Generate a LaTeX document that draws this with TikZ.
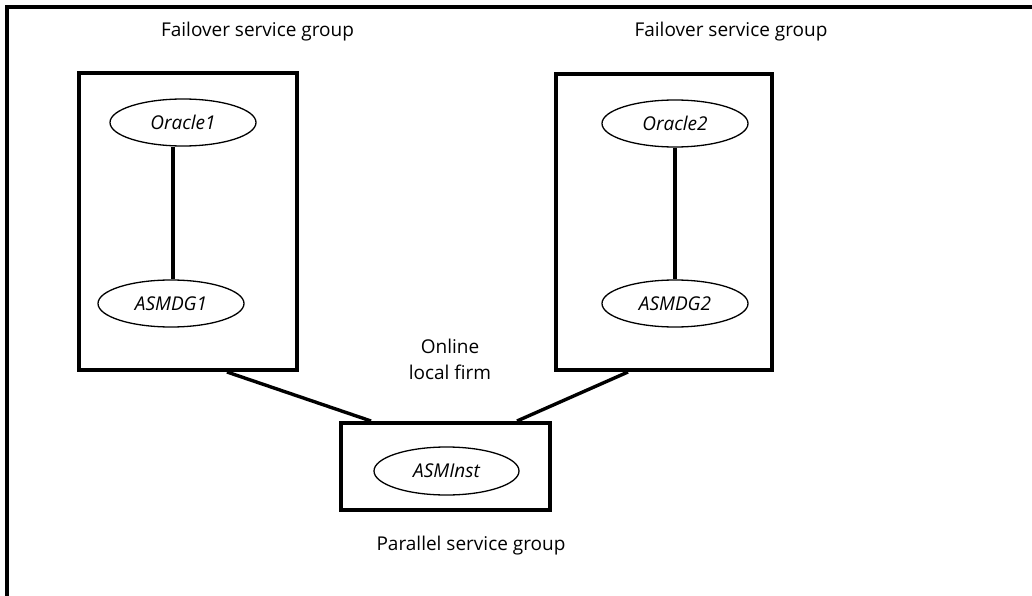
\documentclass[tikz,border=0pt]{standalone}
\usepackage{fontspec}
\setmainfont{Open Sans}
\usetikzlibrary{shapes.geometric}
\begin{document}
\begin{tikzpicture}[x=1pt,y=-1pt,
  grp/.style={draw,line width=4pt,rectangle,inner sep=0pt},
  res/.style={draw,line width=1.3pt,ellipse,inner sep=0pt,minimum width=146pt,minimum height=47pt,font=\fontsize{19}{23}\selectfont\itshape},
  lbl/.style={inner sep=0pt,anchor=base,font=\fontsize{19}{23}\selectfont},
  conn/.style={line width=3.4pt},
  frame/.style={line width=3.8pt}]
\useasboundingbox (0,0) rectangle (1032,596);
% outer frame (open at right and bottom)
\coordinate (fbl) at (7,600);
\coordinate (ftl) at (7,7);
\coordinate (ftr) at (1036,7);
\draw[frame] (fbl) -- (ftl) -- (ftr);
% group boxes
\node[grp,minimum width=218pt,minimum height=297pt] (g1) at (188,221.5) {};
\node[grp,minimum width=216pt,minimum height=296pt] (g2) at (664,222) {};
\node[grp,minimum width=209pt,minimum height=87pt] (g3) at (445.5,466.5) {};
% resources
\node[res] (o1) at (183,122.5) {Oracle1};
\node[res] (a1) at (171,303.5) {ASMDG1};
\node[res] (o2) at (675,123.5) {Oracle2};
\node[res] (a2) at (675,303.5) {ASMDG2};
\node[res,minimum width=145pt,minimum height=48pt] (ai) at (446.5,471) {ASMInst};
% dependencies
\draw[conn] ([xshift=-10pt]o1.south) -- ([xshift=-10pt]o1.south |- a1.north);
\draw[conn] (o2.south) -- (a2.north);
\draw[conn] ([xshift=39pt]g1.south) -- ([xshift=-74.5pt]g3.north);
\draw[conn] ([xshift=-36pt]g2.south) -- ([xshift=71.5pt]g3.north);
% labels
\node[lbl] (t1) at (257.5,36.5) {Failover service group};
\node[lbl] (t2) at (731,36.5) {Failover service group};
\node[lbl] (t3) at (450,353) {Online};
\node[lbl] (t4) at (450,379) {local firm};
\node[lbl] (t5) at (471,550) {Parallel service group};
\end{tikzpicture}
\end{document}
